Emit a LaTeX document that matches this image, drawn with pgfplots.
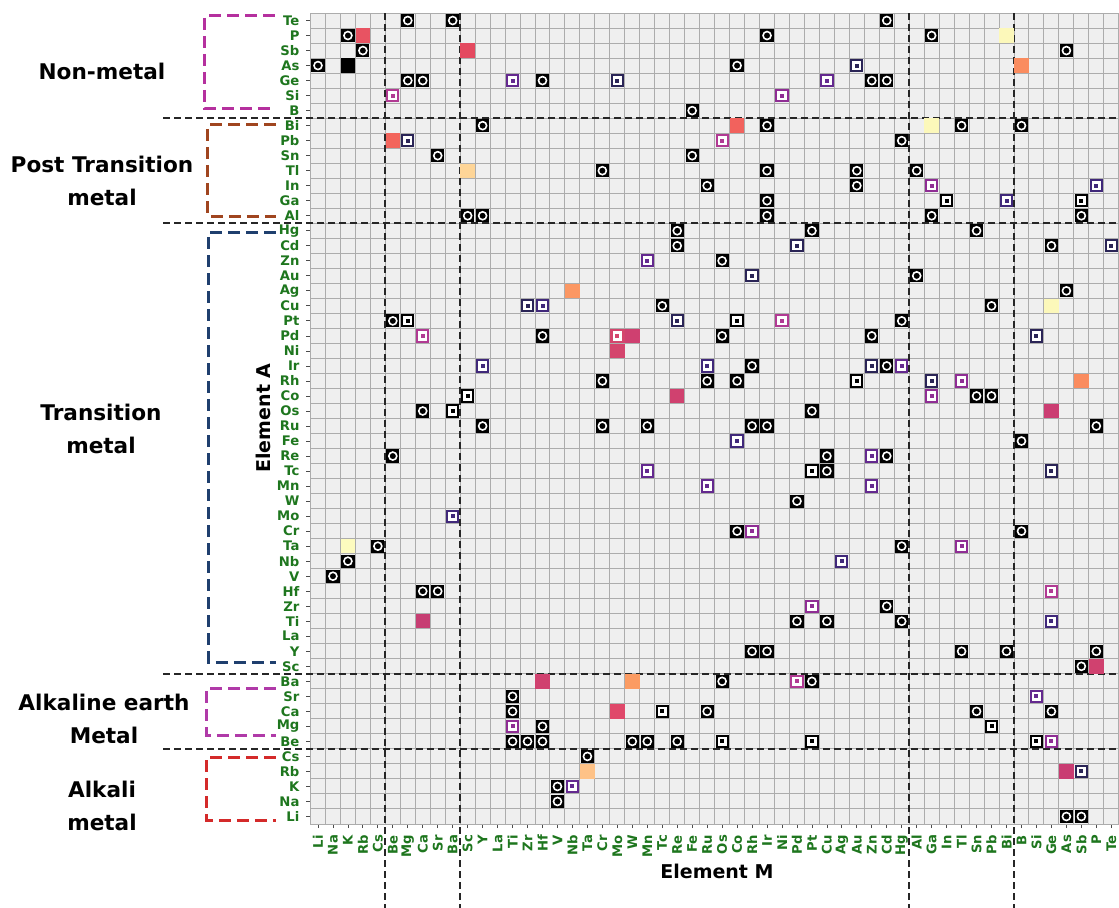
\documentclass[border=0pt]{standalone}
\usepackage{pgfplots}
\pgfplotsset{compat=1.18}
\usepackage{fontspec}
\setmainfont{DejaVu Sans}

\definecolor{bgc}{RGB}{239,239,239}
\definecolor{gridc}{RGB}{172,172,172}
\definecolor{tickgreen}{RGB}{30,118,30}
\definecolor{cnavy}{HTML}{2A2456}
\definecolor{cdpurp}{HTML}{40287A}
\definecolor{cpurp}{HTML}{64298F}
\definecolor{cmpurp}{HTML}{8F2D94}
\definecolor{cmag}{HTML}{B13A93}
\definecolor{nmcol}{HTML}{B5309E}
\definecolor{ptcol}{HTML}{A0451F}
\definecolor{tmcol}{HTML}{1F3F6E}
\definecolor{aecol}{HTML}{B03AA8}
\definecolor{akcol}{HTML}{D42A2A}
% filled-cell colours
\definecolor{fA}{HTML}{E85362}
\definecolor{fB}{HTML}{E4495F}
\definecolor{fC}{HTML}{F3655C}
\definecolor{fD}{HTML}{F2625D}
\definecolor{fE}{HTML}{FED597}
\definecolor{fF}{HTML}{FCF8BA}
\definecolor{fG}{HTML}{FA8C5F}
\definecolor{fH}{HTML}{FB9763}
\definecolor{fI}{HTML}{D4456D}
\definecolor{fJ}{HTML}{CF4070}
\definecolor{fK}{HTML}{D0416F}
\definecolor{fL}{HTML}{CB3D72}
\definecolor{fM}{HTML}{C73E73}
\definecolor{fN}{HTML}{FDFBBF}
\definecolor{fO}{HTML}{FEC287}
\definecolor{fP}{HTML}{FB9B62}
\definecolor{fQ}{HTML}{E0486A}
\definecolor{fR}{HTML}{C93C72}

\pgfdeclareplotmark{cellfill}{%
  \pgfpathrectangle{\pgfpoint{-3.6pt}{-3.6pt}}{\pgfpoint{7.2pt}{7.2pt}}\pgfusepathqfill}
\pgfdeclareplotmark{ringm}{%
  \pgfpathrectangle{\pgfpoint{-3.3pt}{-3.3pt}}{\pgfpoint{6.6pt}{6.6pt}}%
  \pgfsetfillcolor{black}\pgfusepathqfill
  \pgfsetlinewidth{0.8pt}\pgfsetstrokecolor{white}%
  \pgfpathcircle{\pgfpointorigin}{2.0pt}\pgfusepathqstroke}
\pgfdeclareplotmark{sqm}{%
  \pgfsetlinewidth{1pt}%
  \pgfpathrectangle{\pgfpoint{-2.8pt}{-2.8pt}}{\pgfpoint{5.6pt}{5.6pt}}\pgfusepathqfillstroke
  \pgfpathrectangle{\pgfpoint{-0.5pt}{-0.5pt}}{\pgfpoint{1pt}{1pt}}\pgfusepathqstroke}

\newcommand{\ticklab}{\fontsize{6.6}{7}\selectfont\bfseries}
\newcommand{\grp}{\fontsize{10.8}{16.5}\selectfont\bfseries}
\newcommand{\axl}{\fontsize{9.5}{11}\selectfont\bfseries}
\newcommand{\cellat}[2]{\addplot[only marks, mark=cellfill, mark options={fill=#1, draw=none}] coordinates {#2};}
\newcommand{\sqset}[2]{\addplot[only marks, mark=sqm, mark options={draw=#1, fill=white}] coordinates {#2};}

\begin{document}
\begin{tikzpicture}
\useasboundingbox (-155.25pt,-41.5pt) rectangle (404.25pt,412pt);
\begin{axis}[
  at={(0,0)}, anchor=south west,
  scale only axis, width=404.15pt, height=405.5pt,
  xmin=-0.5, xmax=53.5, ymin=-0.5, ymax=53.5,
  clip=false,
  axis background/.style={fill=bgc},
  axis line style={gridc, line width=0.5pt},
  xtick={0,...,53}, ytick={0,...,53},
  xticklabels={Li,Na,K,Rb,Cs,Be,Mg,Ca,Sr,Ba,Sc,Y,La,Ti,Zr,Hf,V,Nb,Ta,Cr,Mo,W,Mn,Tc,Re,Fe,Ru,Os,Co,Rh,Ir,Ni,Pd,Pt,Cu,Ag,Au,Zn,Cd,Hg,Al,Ga,In,Tl,Sn,Pb,Bi,B,Si,Ge,As,Sb,P,Te},
  yticklabels={Li,Na,K,Rb,Cs,Be,Mg,Ca,Sr,Ba,Sc,Y,La,Ti,Zr,Hf,V,Nb,Ta,Cr,Mo,W,Mn,Tc,Re,Fe,Ru,Os,Co,Rh,Ir,Ni,Pd,Pt,Cu,Ag,Au,Zn,Cd,Hg,Al,Ga,In,Tl,Sn,Pb,Bi,B,Si,Ge,As,Sb,P,Te},
  minor xtick={-0.5,0.5,...,53.6}, minor ytick={-0.5,0.5,...,53.6},
  xminorgrids, yminorgrids,
  minor grid style={gridc, line width=0.5pt},
  minor tick length=0pt, major tick length=2pt,
  tick align=outside, tick pos=left,
  tick style={black!70, line width=0.4pt},
  xticklabel style={rotate=90, anchor=east, font=\ticklab, text=tickgreen},
  yticklabel style={font=\ticklab, text=tickgreen},
]
% separators
\draw[black!85, line width=0.9pt, dash pattern=on 3.5pt off 2pt] (axis cs:4.5,53.5) -- (axis cs:4.5,-6.2);
\draw[black!85, line width=0.9pt, dash pattern=on 3.5pt off 2pt] (axis cs:9.5,53.5) -- (axis cs:9.5,-6.2);
\draw[black!85, line width=0.9pt, dash pattern=on 3.5pt off 2pt] (axis cs:39.5,53.5) -- (axis cs:39.5,-6.2);
\draw[black!85, line width=0.9pt, dash pattern=on 3.5pt off 2pt] (axis cs:46.5,53.5) -- (axis cs:46.5,-6.2);
\draw[black!85, line width=0.9pt, dash pattern=on 3.5pt off 2pt] (axis cs:-10.35,46.5) -- (axis cs:53.5,46.5);
\draw[black!85, line width=0.9pt, dash pattern=on 3.5pt off 2pt] (axis cs:-10.35,39.5) -- (axis cs:53.5,39.5);
\draw[black!85, line width=0.9pt, dash pattern=on 3.5pt off 2pt] (axis cs:-10.35,9.5) -- (axis cs:53.5,9.5);
\draw[black!85, line width=0.9pt, dash pattern=on 3.5pt off 2pt] (axis cs:-10.35,4.5) -- (axis cs:53.5,4.5);

% filled cells
\cellat{black}{(2,50)}
\cellat{fA}{(3,52)}
\cellat{fB}{(10,51)}
\cellat{fC}{(5,45)}
\cellat{fD}{(28,46)}
\cellat{fE}{(10,43)}
\cellat{fF}{(46,52) (41,46) (49,34)}
\cellat{fG}{(47,50) (51,29)}
\cellat{fH}{(17,35)}
\cellat{fI}{(20,32) (20,31)}
\cellat{fJ}{(21,32)}
\cellat{fK}{(24,28) (15,9) (52,10)}
\cellat{fL}{(49,27)}
\cellat{fM}{(7,13)}
\cellat{fN}{(2,18)}
\cellat{fO}{(18,3)}
\cellat{fP}{(21,9)}
\cellat{fQ}{(20,7)}
\cellat{fR}{(50,3)}

% ring markers
\addplot[only marks, mark=ringm] coordinates {
(6,53) (9,53) (2,52) (3,51) (0,50) (6,49) (7,49) (15,49) (11,46) (8,44) (10,40) (11,40)
(30,52) (28,50) (25,47) (30,46) (25,44) (19,43) (30,43) (36,43) (26,42) (36,42) (30,41) (30,40) (24,39) (33,39) (24,38) (27,37)
(38,53) (41,52) (50,51) (37,49) (38,49) (43,46) (47,46) (39,45) (40,43) (41,40) (51,40) (44,39) (49,38) (40,36) (50,35)
(5,33) (15,32) (7,27) (11,26) (5,24) (4,18) (2,17)
(23,34) (27,32) (29,30) (19,29) (26,29) (28,29) (33,27) (19,26) (22,26) (29,26) (30,26) (34,24) (34,23) (32,21) (28,19)
(45,34) (39,33) (37,32) (38,30) (44,28) (45,28) (52,26) (47,25) (38,24) (47,19) (39,18)
(1,16) (7,15) (8,15) (13,8) (13,7) (15,6) (13,5) (14,5) (15,5) (16,2) (16,1) (18,4)
(32,13) (34,13) (29,11) (30,11) (27,9) (33,9) (26,7) (21,5) (22,5) (24,5)
(38,14) (39,13) (43,11) (46,11) (52,11) (51,10) (49,7) (44,7) (50,0) (51,0)
};

% square markers
\sqset{black}{(42,41) (51,41) (6,33) (28,33) (10,28) (9,27) (36,29) (33,23) (23,7) (27,5) (33,5) (45,6) (48,5)}
\sqset{cnavy}{(6,45) (20,49) (36,50) (32,38) (29,36) (53,38) (14,34) (24,33) (41,29) (49,23) (51,3) (37,30) (48,32)}
\sqset{cdpurp}{(15,34) (11,30) (9,20) (26,30) (28,25) (35,17) (49,13) (52,42) (46,41)}
\sqset{cpurp}{(13,49) (34,49) (22,37) (22,23) (26,22) (37,24) (37,22) (39,30) (17,2) (48,8)}
\sqset{cmpurp}{(31,48) (29,19) (41,42) (43,29) (41,28) (43,18) (33,14) (13,6) (49,5)}
\sqset{cmag}{(5,48) (27,45) (7,32) (31,33) (32,9) (49,15)}
\sqset{fI}{(20,32)}
\end{axis}

\begin{scope}[shift={(-155.25pt,412pt)}, x=0.5pt, y=-0.5pt]
\tikzset{brk/.style={line width=1.5pt, dash pattern=on 6pt off 3pt}}
\draw[brk, nmcol] (275,16) -- (205,16) -- (205,109) -- (275,109);
\draw[brk, ptcol] (276,125) -- (208,125) -- (208,216) -- (276,216);
\draw[brk, tmcol] (276,232) -- (209,232) -- (209,662) -- (276,662);
\draw[brk, aecol] (276,688) -- (207,688) -- (207,735) -- (276,735);
\draw[brk, akcol] (276,757) -- (207,757) -- (207,820) -- (276,820);
\node[font=\grp, align=center] at (102,71) {Non-metal};
\node[font=\grp, align=center] at (102,181) {Post Transition\\metal};
\node[font=\grp, align=center] at (101,429) {Transition\\metal};
\node[font=\grp, align=center] at (104,719) {Alkaline earth\\Metal};
\node[font=\grp, align=center] at (102,806) {Alkali\\metal};
\node[font=\axl, rotate=90] at (263,418) {Element A};
\node[font=\axl] at (717,871) {Element M};
\end{scope}
\end{tikzpicture}
\end{document}
